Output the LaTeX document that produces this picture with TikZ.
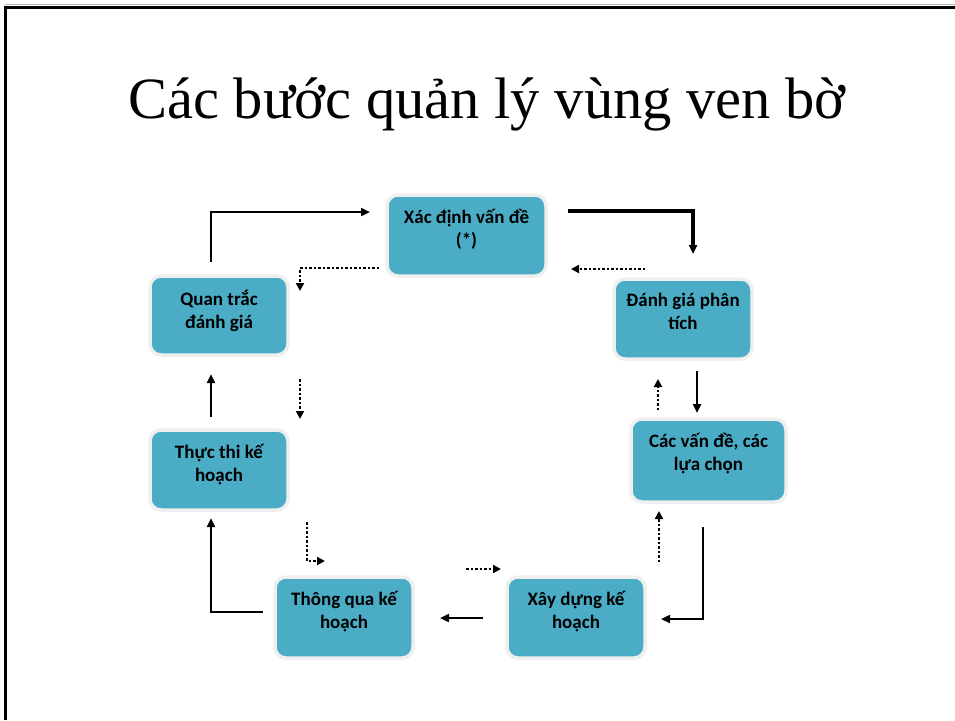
\documentclass[tikz,border=0pt]{standalone}
\usepackage{fontspec}
\setmainfont{Liberation Serif}
\newfontfamily\boxfont{Carlito}
\usetikzlibrary{arrows.meta}
\definecolor{boxfill}{HTML}{4BACC6}
\definecolor{boxedge}{HTML}{EFEFEF}
\tikzset{
  stepbox/.style={draw=boxedge, line width=3.5pt, fill=boxfill, rounded corners=11pt, inner sep=0pt},
  boxtext/.style={anchor=north, align=center, font=\boxfont\bfseries\fontsize{19}{23}\selectfont, inner sep=0pt},
  solidarrow/.style={line width=2.5pt, -{Triangle[length=9pt,width=8pt]}},
  thickarrow/.style={line width=3.3pt, -{Triangle[length=9pt,width=8pt]}},
  dotarrow/.style={line width=2.5pt, dash pattern=on 2.5pt off 2pt, -{Triangle[length=8pt,width=8pt]}},
}
\begin{document}
\begin{tikzpicture}[x=1pt,y=-1pt]
\useasboundingbox (0,0) rectangle (955,720);
% frame
\draw[gray!60, line width=1pt] (5,4.5) -- (955,4.5);
\draw[black, line width=3pt] (5,720) -- (5,7.5) -- (955,7.5);
% title
\node[font=\fontsize{58.5}{66}\selectfont, inner sep=0pt, anchor=base] (title) at (487,118) {Các bước quản lý vùng ven bờ};
% boxes
\node[stepbox, minimum width=159pt, minimum height=81pt] (xd) at (466.5,235.5) {};
\node[stepbox, minimum width=138pt, minimum height=79pt] (qt) at (219,315.5) {};
\node[stepbox, minimum width=138pt, minimum height=80pt] (dg) at (683,319) {};
\node[stepbox, minimum width=138pt, minimum height=80pt] (tt) at (219,470) {};
\node[stepbox, minimum width=155pt, minimum height=83pt] (cv) at (708.5,460.5) {};
\node[stepbox, minimum width=138pt, minimum height=81pt] (tq) at (344,617.5) {};
\node[stepbox, minimum width=138pt, minimum height=81pt] (xy) at (576,617.5) {};
% texts
\node[boxtext] (xdt) at ([yshift=-16pt]xd.north) {Xác định vấn đề\\(*)};
\node[boxtext] (qtt) at ([yshift=-16pt]qt.north) {Quan trắc\\đánh giá};
\node[boxtext] (dgt) at ([yshift=-16pt]dg.north) {Đánh giá phân\\tích};
\node[boxtext] (ttt) at ([yshift=-16pt]tt.north) {Thực thi kế\\hoạch};
\node[boxtext] (cvt) at ([yshift=-16pt]cv.north) {Các vấn đề, các\\lựa chọn};
\node[boxtext] (tqt) at ([yshift=-16pt]tq.north) {Thông qua kế\\hoạch};
\node[boxtext] (xyt) at ([yshift=-16pt]xy.north) {Xây dựng kế\\hoạch};
% arrow coordinates
\coordinate (a1s) at (211,262); \coordinate (a1e) at (370,212);
\coordinate (a2s) at (379,268); \coordinate (a2e) at (300,291);
\coordinate (a3s) at (568,211); \coordinate (a3e) at (693,254);
\coordinate (a4s) at (645,269); \coordinate (a4e) at (571,269);
\coordinate (a5s) at (697,371); \coordinate (a5e) at (697,413);
\coordinate (a6s) at (658,410); \coordinate (a6e) at (658,379);
\coordinate (a7s) at (659,562); \coordinate (a7e) at (659,511);
\coordinate (a8s) at (703,527); \coordinate (a8e) at (661,619);
\coordinate (a9s) at (483,618); \coordinate (a9e) at (440,618);
\coordinate (a10s) at (466,569); \coordinate (a10e) at (501,569);
\coordinate (a11s) at (307,522); \coordinate (a11e) at (325,561);
\coordinate (a12s) at (263,612); \coordinate (a12e) at (211,518);
\coordinate (a13s) at (211,417); \coordinate (a13e) at (211,374);
\coordinate (a14s) at (300,379); \coordinate (a14e) at (300,419);
% arrows
\draw[solidarrow] (a1s) |- (a1e);
\draw[dotarrow] (a2s) -| (a2e);
\draw[thickarrow] (a3s) -| (a3e);
\draw[dotarrow] (a4s) -- (a4e);
\draw[solidarrow] (a5s) -- (a5e);
\draw[dotarrow] (a6s) -- (a6e);
\draw[dotarrow] (a7s) -- (a7e);
\draw[solidarrow] (a8s) |- (a8e);
\draw[solidarrow] (a9s) -- (a9e);
\draw[dotarrow] (a10s) -- (a10e);
\draw[dotarrow] (a11s) |- (a11e);
\draw[solidarrow] (a12s) -| (a12e);
\draw[solidarrow] (a13s) -- (a13e);
\draw[dotarrow] (a14s) -- (a14e);
\end{tikzpicture}
\end{document}
